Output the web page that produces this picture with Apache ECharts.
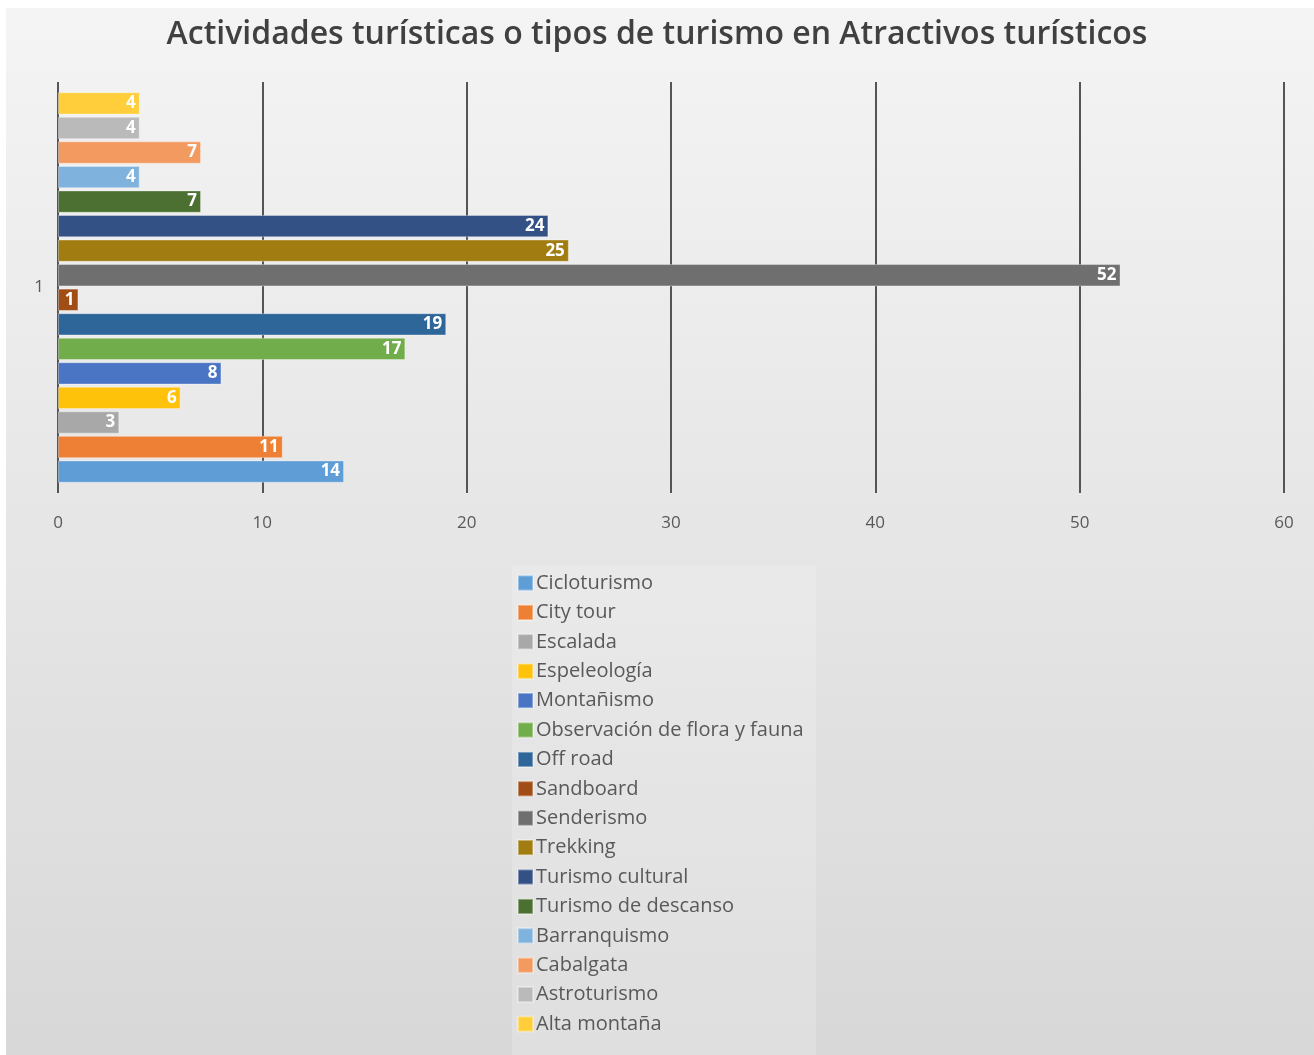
<!DOCTYPE html>
<html>
<head>
<meta charset="utf-8">
<script src="https://cdn.jsdelivr.net/npm/echarts@6/dist/echarts.min.js"></script>
<style>
html,body{margin:0;padding:0;background:#fff;}
#chart{width:1314px;height:1055px;}
</style>
</head>
<body>
<div id="chart"></div>
<script>
const titleText = 'Actividades turísticas o tipos de turismo en Atractivos turísticos';
const categories = ['1'];
const seriesNames = ['Cicloturismo','City tour','Escalada','Espeleología','Montañismo','Observación de flora y fauna','Off road','Sandboard','Senderismo','Trekking','Turismo cultural','Turismo de descanso','Barranquismo','Cabalgata','Astroturismo','Alta montaña'];
const seriesValues = [14, 11, 3, 6, 8, 17, 19, 1, 52, 25, 24, 7, 4, 7, 4, 4];
const seriesColors = ['#5f9dd6','#ee8035','#a8a8a8','#ffc20a','#4a75c4','#72ad4b','#2f6699','#a04d16','#6f6f6f','#a17c10','#345186','#4b7032','#80b2de','#f29a5f','#bababa','#ffce3a'];
const xTicks = {min: 0, max: 60, interval: 10};

const chart = echarts.init(document.getElementById('chart'), null, {renderer: 'canvas'});
// ECharts stacks horizontal bars of one category from the top, so add series in reverse
// order to put the first series at the bottom (as in the reference).
const order = seriesNames.map((_, i) => i).reverse();
const series = order.map(i => ({
  name: seriesNames[i],
  type: 'bar',
  data: [seriesValues[i]],
  barGap: '10%',
  barCategoryGap: '5%',
  itemStyle: {color: seriesColors[i], borderColor: 'rgba(255,255,255,0.35)', borderWidth: 1},
  label: {
    show: true, position: 'insideRight', distance: 4,
    color: '#ffffff', fontFamily: 'Open Sans', fontWeight: 'bold', fontSize: 17
  }
}));
chart.setOption({
  backgroundColor: '#ffffff',
  animation: false,
  graphic: [{
    type: 'rect', z: -10, silent: true,
    shape: {x: 6, y: 8, width: 1308, height: 1047},
    style: {fill: new echarts.graphic.LinearGradient(0, 0, 0, 1, [
      {offset: 0, color: '#f4f4f4'}, {offset: 1, color: '#d8d8d8'}])}
  }, {
    type: 'rect', z: -9, silent: true,
    shape: {x: 512, y: 565, width: 304, height: 490},
    style: {fill: 'rgba(255,255,255,0.18)'}
  }],
  title: {
    text: titleText, left: 'center', top: 14,
    textStyle: {fontFamily: 'Open Sans', fontWeight: 600, fontSize: 32, color: '#404040'}
  },
  grid: {left: 58, right: 30, top: 82, bottom: 562, containLabel: false},
  xAxis: {
    type: 'value', min: xTicks.min, max: xTicks.max, interval: xTicks.interval,
    axisLine: {show: false}, axisTick: {show: false},
    splitLine: {show: true, lineStyle: {color: '#555555', width: 2}},
    axisLabel: {color: '#595959', fontFamily: 'Open Sans', fontSize: 17, margin: 22}
  },
  yAxis: {
    type: 'category', data: categories,
    axisLine: {show: false}, axisTick: {show: false},
    axisLabel: {color: '#595959', fontFamily: 'Open Sans', fontSize: 17, margin: 14}
  },
  legend: {
    orient: 'vertical', left: 512, top: 568,
    data: seriesNames,
    icon: 'rect', itemWidth: 15, itemHeight: 15, itemGap: 9.4,
    textStyle: {color: '#595959', fontFamily: 'Open Sans', fontSize: 20, lineHeight: 20, padding: [0,0,0,-2]}
  },
  series: series
});
</script>
</body>
</html>
